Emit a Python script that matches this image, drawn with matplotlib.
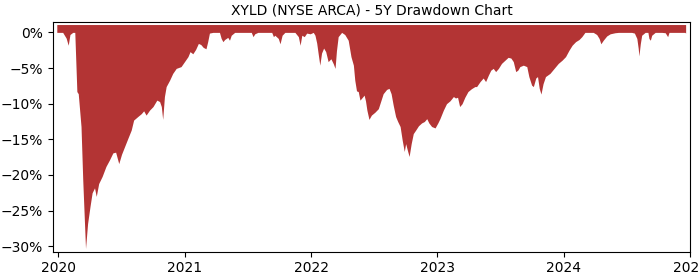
import matplotlib
matplotlib.use("Agg")
import matplotlib.pyplot as plt
import matplotlib.dates as mdates
from matplotlib.ticker import FuncFormatter
import pandas as pd

title = "XYLD (NYSE ARCA) - 5Y Drawdown Chart"

dates = [
    "2019-12-28", "2020-01-14", "2020-01-24", "2020-01-30", "2020-02-04", "2020-02-12",
    "2020-02-18", "2020-02-24", "2020-02-28", "2020-03-07", "2020-03-12", "2020-03-20",
    "2020-03-26", "2020-04-02", "2020-04-08", "2020-04-15", "2020-04-20", "2020-04-27",
    "2020-05-07", "2020-05-18", "2020-05-28", "2020-06-07", "2020-06-15", "2020-06-24",
    "2020-07-02", "2020-07-11", "2020-07-20", "2020-07-30", "2020-08-06", "2020-08-18",
    "2020-08-28", "2020-09-04", "2020-09-11", "2020-09-21", "2020-10-01", "2020-10-12",
    "2020-10-20", "2020-10-25", "2020-10-29", "2020-11-03", "2020-11-08", "2020-11-18",
    "2020-11-27", "2020-12-07", "2020-12-21", "2020-12-31", "2021-01-10", "2021-01-16",
    "2021-01-24", "2021-02-01", "2021-02-09", "2021-02-16", "2021-02-23", "2021-03-03",
    "2021-03-08", "2021-03-13", "2021-03-23", "2021-04-11", "2021-04-16", "2021-04-21",
    "2021-04-26", "2021-05-05", "2021-05-10", "2021-05-15", "2021-05-25", "2021-07-12",
    "2021-07-17", "2021-07-22", "2021-07-31", "2021-09-09", "2021-09-14", "2021-09-18",
    "2021-09-28", "2021-10-03", "2021-10-09", "2021-10-17", "2021-11-15", "2021-11-25",
    "2021-11-30", "2021-12-05", "2021-12-12", "2021-12-19", "2021-12-29", "2022-01-07",
    "2022-01-12", "2022-01-17", "2022-01-21", "2022-01-26", "2022-01-31", "2022-02-06",
    "2022-02-12", "2022-02-19", "2022-02-27", "2022-03-06", "2022-03-11", "2022-03-15",
    "2022-03-20", "2022-03-30", "2022-04-08", "2022-04-18", "2022-04-26", "2022-05-03",
    "2022-05-07", "2022-05-12", "2022-05-17", "2022-05-22", "2022-05-29", "2022-06-03",
    "2022-06-07", "2022-06-11", "2022-06-17", "2022-06-24", "2022-07-04", "2022-07-14",
    "2022-07-22", "2022-07-28", "2022-08-07", "2022-08-14", "2022-08-20", "2022-08-26",
    "2022-09-02", "2022-09-08", "2022-09-15", "2022-09-21", "2022-09-27", "2022-10-01",
    "2022-10-07", "2022-10-11", "2022-10-17", "2022-10-23", "2022-10-30", "2022-11-07",
    "2022-11-16", "2022-11-24", "2022-12-01", "2022-12-07", "2022-12-15", "2022-12-25",
    "2023-01-02", "2023-01-08", "2023-01-18", "2023-01-27", "2023-02-06", "2023-02-16",
    "2023-02-22", "2023-02-28", "2023-03-06", "2023-03-13", "2023-03-21", "2023-03-30",
    "2023-04-09", "2023-04-19", "2023-04-24", "2023-05-04", "2023-05-13", "2023-05-20",
    "2023-05-28", "2023-06-04", "2023-06-11", "2023-06-18", "2023-06-26", "2023-07-05",
    "2023-07-15", "2023-07-24", "2023-08-01", "2023-08-08", "2023-08-15", "2023-08-21",
    "2023-08-27", "2023-09-06", "2023-09-16", "2023-09-22", "2023-09-30", "2023-10-05",
    "2023-10-12", "2023-10-17", "2023-10-22", "2023-10-27", "2023-11-02", "2023-11-09",
    "2023-11-22", "2023-12-04", "2023-12-16", "2023-12-27", "2024-01-06", "2024-01-16",
    "2024-01-25", "2024-02-04", "2024-02-14", "2024-02-22", "2024-03-02", "2024-03-26",
    "2024-04-05", "2024-04-12", "2024-04-17", "2024-04-24", "2024-05-04", "2024-05-14",
    "2024-05-28", "2024-06-07", "2024-07-15", "2024-07-23", "2024-07-30", "2024-08-03",
    "2024-08-05", "2024-08-09", "2024-08-13", "2024-08-23", "2024-08-31", "2024-09-03",
    "2024-09-07", "2024-09-11", "2024-09-21", "2024-10-10", "2024-10-20", "2024-10-27",
    "2024-10-31", "2024-12-16", "2024-12-18",
]

drawdown = [
    0.0, 0.0, -0.8, -1.8, -0.3, 0.0,
    0.0, -8.3, -8.6, -13.2, -20.7, -30.3,
    -26.8, -24.4, -22.5, -21.8, -23.0, -21.2,
    -20.2, -18.8, -17.9, -16.9, -16.8, -18.4,
    -17.1, -16.0, -14.9, -13.7, -12.3, -11.8,
    -11.4, -11.0, -11.6, -10.9, -10.4, -9.5,
    -9.7, -10.4, -12.2, -9.0, -7.6, -6.7,
    -5.75, -5.05, -4.8, -4.1, -3.4, -2.7,
    -3.0, -2.4, -1.55, -1.7, -2.1, -2.3,
    -1.3, -0.1, 0.0, 0.0, -0.85, -1.3,
    -1.0, -0.7, -1.1, -0.4, 0.0, 0.0,
    -0.6, -0.2, 0.0, 0.0, -0.6, -0.4,
    -0.85, -1.6, -0.4, 0.0, 0.0, -0.6,
    -1.8, -0.4, -0.6, -0.1, -0.2, 0.0,
    -0.4, -1.5, -2.9, -4.6, -2.9, -2.2,
    -2.7, -4.1, -3.7, -4.4, -5.05, -2.6,
    -0.6, 0.0, -0.3, -1.1, -3.4, -4.6,
    -6.7, -8.2, -8.3, -9.5, -9.1, -8.8,
    -9.6, -10.9, -12.2, -11.6, -11.2, -10.7,
    -9.5, -8.6, -8.0, -7.85, -8.6, -10.2,
    -11.8, -12.5, -13.2, -15.1, -16.7, -15.6,
    -16.7, -17.4, -15.6, -14.2, -13.7, -13.1,
    -12.7, -12.5, -12.1, -12.7, -13.2, -13.4,
    -12.7, -12.1, -10.9, -10.0, -9.6, -9.0,
    -9.2, -9.1, -10.4, -10.0, -9.1, -8.3,
    -7.9, -7.6, -7.6, -6.9, -6.4, -6.9,
    -6.0, -5.3, -5.05, -5.5, -5.05, -4.35,
    -3.9, -3.5, -3.6, -4.1, -5.5, -5.3,
    -4.8, -4.6, -4.8, -6.2, -7.4, -7.6,
    -6.4, -6.2, -7.85, -8.65, -7.2, -6.2,
    -5.75, -5.05, -4.35, -3.9, -3.4, -2.5,
    -1.8, -1.3, -1.0, -0.6, 0.0, 0.0,
    -0.3, -0.85, -1.6, -1.1, -0.5, -0.2,
    -0.05, 0.0, 0.0, -0.1, -0.85, -2.25,
    -3.3, -1.6, -0.4, 0.0, 0.0, -0.85,
    -1.1, -0.4, 0.0, 0.0, -0.05, -0.6,
    0.0, 0.0, -0.1,
]

yticks = [0, -5, -10, -15, -20, -25, -30]

x = pd.to_datetime(dates)
fill_top = 1.1

fig = plt.figure(figsize=(7, 2.8), dpi=100)
ax = fig.add_axes([0.0757, 0.101, 0.9107, 0.819])
ax.fill_between(x, drawdown, fill_top, color="#b33434", linewidth=0)

ax.set_xlim(pd.Timestamp("2019-12-17"), pd.Timestamp("2025-01-01"))
ax.set_ylim(-30.76, 1.4)
ax.set_yticks(yticks)
ax.yaxis.set_major_formatter(FuncFormatter(lambda v, p: f"{v:.0f}%".replace("-", "\u2212")))
ax.xaxis.set_major_locator(mdates.YearLocator())
ax.xaxis.set_major_formatter(mdates.DateFormatter("%Y"))
ax.set_title(title, fontsize=10)

fig.savefig("out.png", dpi=100)
